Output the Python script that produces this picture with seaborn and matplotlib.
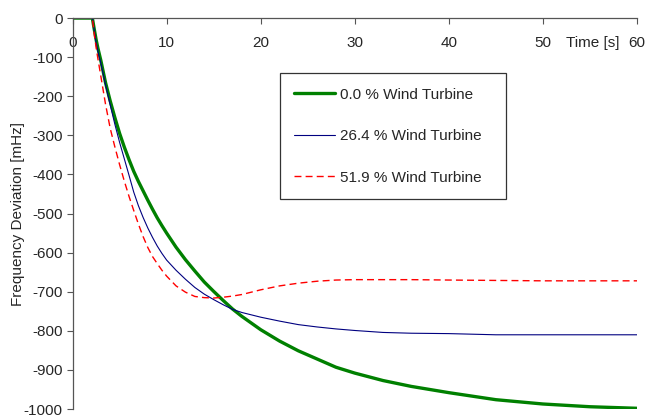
import pandas as pd
import matplotlib
matplotlib.use("Agg")
import matplotlib.pyplot as plt
import seaborn as sns

# ========== DATA ==========
time_s = [0, 2.1, 2.3, 2.5, 2.7, 3, 3.5, 4, 4.5, 5, 5.5, 6, 6.5, 7, 7.5, 8, 8.5, 9, 9.5, 10,
          11, 12, 13, 14, 15, 16, 17, 18, 20, 22, 24, 26, 28, 30, 33, 36, 40, 45, 50, 55, 60]

wt_00 = [0, 0, -28, -55, -78, -108, -165, -212, -255, -295, -330, -362, -392, -418, -442,
         -466, -489, -511, -531, -550, -586, -618, -647, -675, -699, -722, -744, -763, -797,
         -826, -851, -872, -893, -908, -927, -942, -958, -976, -987, -994, -998]

wt_264 = [0, 0, -30, -62, -85, -115, -170, -222, -272, -318, -360, -402, -445, -480, -510,
          -537, -561, -583, -602, -619, -645, -668, -689, -706, -720, -733, -745, -753, -765,
          -775, -784, -790, -795, -799, -804, -806, -807, -810, -810, -810, -810]

wt_519 = [0, 0, -40, -75, -105, -148, -220, -282, -330, -375, -417, -456, -492, -527, -559,
          -587, -610, -628, -645, -660, -685, -701, -712, -715, -716, -714, -711, -707, -695,
          -685, -678, -673, -670, -669, -669, -669, -670, -671, -672, -672, -672]

labels = ["0.0 % Wind Turbine", "26.4 % Wind Turbine", "51.9 % Wind Turbine"]
y_ticks = list(range(-1000, 1, 100))
x_ticks = [0, 10, 20, 30, 40, 50, 60]

# ========== STYLE ==========
sns.set_style("white", {"xtick.bottom": True, "ytick.left": True})
plt.rcParams["font.family"] = ["Liberation Sans", "DejaVu Sans"]
plt.rcParams["font.size"] = 11

fig = plt.figure(figsize=(6.48, 4.2), dpi=100)
ax = fig.add_axes([0.112, 0.026, 0.871, 0.931])

df = pd.DataFrame({"t": time_s, "a": wt_00, "b": wt_264, "c": wt_519})

sns.lineplot(data=df, x="t", y="a", ax=ax, color="#008000", linewidth=2.4, label=labels[0])
sns.lineplot(data=df, x="t", y="b", ax=ax, color="#000080", linewidth=0.8, label=labels[1])
sns.lineplot(data=df, x="t", y="c", ax=ax, color="#FF0000", linewidth=1.0, label=labels[2])
ax.lines[-1].set_dashes((5, 3))

ax.set_xlim(0, 60)
ax.set_ylim(-1000, 0)
ax.set_xticks(x_ticks)
ax.set_yticks(y_ticks)
ax.set_xticklabels([str(v) for v in x_ticks])
ax.set_yticklabels([str(v) for v in y_ticks])

# x axis crosses at y = 0 (top), Excel style
ax.spines["bottom"].set_position(("data", 0))
ax.spines["top"].set_visible(False)
ax.spines["right"].set_visible(False)
for s in ["left", "bottom"]:
    ax.spines[s].set_color("#555555")
    ax.spines[s].set_linewidth(0.9)

ax.tick_params(axis="x", direction="out", length=4, width=0.8, color="#555555",
               pad=9, labelsize=11)
ax.tick_params(axis="y", direction="out", length=4, width=0.8, color="#555555",
               pad=3, labelsize=11)

ax.set_xlabel("")
ax.set_ylabel("Frequency Deviation [mHz]", fontsize=11, labelpad=-1)
ax.text(55.3, -64, "Time [s]", ha="center", va="center", fontsize=11)

leg = ax.legend(loc="upper left", bbox_to_anchor=(0.367, 0.5, 0.4005, 0.359),
                mode="expand", borderaxespad=0,
                frameon=True, fancybox=False, framealpha=1, edgecolor="#333333",
                handlelength=2.7, handletextpad=0.3, labelspacing=1.8,
                borderpad=0.95, fontsize=11)
leg.get_frame().set_linewidth(0.9)

plt.savefig("out.png", dpi=100)
plt.close()
